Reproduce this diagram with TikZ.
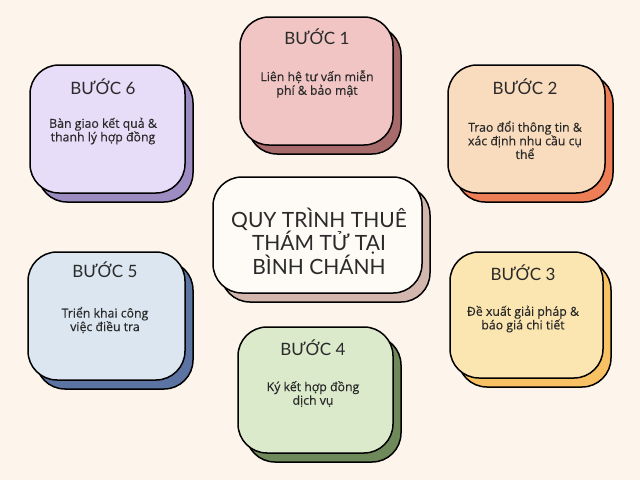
\documentclass[tikz,border=0pt]{standalone}
\usepackage{fontspec}
\setmainfont{Lato}
\newfontfamily\bodyfont[FakeBold=0.4]{Open Sans}
\usetikzlibrary{shadows}
\pgfdeclarelayer{background}
\pgfsetlayers{background,main}
\definecolor{bg}{HTML}{FDF5EC}
\definecolor{txt}{HTML}{2A2A2A}
\definecolor{f1}{HTML}{F1C5C4}\definecolor{s1}{HTML}{A86B6B}
\definecolor{f2}{HTML}{F9DCBE}\definecolor{s2}{HTML}{EE7E55}
\definecolor{f3}{HTML}{FBE5B0}\definecolor{s3}{HTML}{F8C264}
\definecolor{f4}{HTML}{DCEACC}\definecolor{s4}{HTML}{6E8A5A}
\definecolor{f5}{HTML}{DCE6F0}\definecolor{s5}{HTML}{5C74A2}
\definecolor{f6}{HTML}{E8DDF8}\definecolor{s6}{HTML}{9C8CC2}
\definecolor{fc}{HTML}{FEFBF6}\definecolor{sc}{HTML}{D3B7AF}
\tikzset{
  card/.style n args={4}{draw=black, line width=1.5pt, rounded corners=29pt,
    fill=#3, minimum width=#1, minimum height=#2, inner sep=0pt,
    general shadow={fill=#4, draw=black, line width=1.5pt, shadow xshift=8pt, shadow yshift=-9pt}},
  head/.style={font=\fontsize{17}{20}\selectfont, text=txt, inner sep=0pt},
  body/.style={font=\bodyfont\fontsize{12.3}{13.6}\selectfont, text=txt, align=center, inner sep=0pt},
  title/.style={font=\fontsize{21}{23.5}\selectfont, text=txt, align=center, inner sep=0pt},
  conn/.style={draw=black!75, line width=0.8pt}
}
\begin{document}
\begin{tikzpicture}[x=1pt,y=-1pt]
\fill[bg] (0,0) rectangle (640,480);
\useasboundingbox (0,0) rectangle (640,480);
% boxes
\node[card={153pt}{128pt}{f1}{s1}] (k1) at (316.5,81) {};
\node[card={157pt}{128pt}{f2}{s2}] (k2) at (526.5,129) {};
\node[card={153pt}{126pt}{f3}{s3}] (k3) at (526.5,315) {};
\node[card={155pt}{126pt}{f4}{s4}] (k4) at (315.5,390) {};
\node[card={157pt}{128pt}{f5}{s5}] (k5) at (106.5,316) {};
\node[card={155pt}{128pt}{f6}{s6}] (k6) at (107.5,129) {};
\node[card={209pt}{116pt}{fc}{sc}] (c) at (317.5,235) {};
% connectors
\begin{pgfonlayer}{background}
\foreach \k in {k1,k2,k3,k4,k5,k6} \draw[conn] (c.center) -- (\k.center);
\end{pgfonlayer}
% texts
\node[head] (h1) at (317,37) {BƯỚC 1};
\node[body] (b1) at (317,84) {Liên hệ tư vấn miễn\\phí \& bảo mật};
\node[head] (h2) at (525,87) {BƯỚC 2};
\node[body] (b2) at (525,140) {Trao đổi thông tin \&\\xác định nhu cầu cụ\\thể};
\node[head] (h3) at (523,273) {BƯỚC 3};
\node[body] (b3) at (523,319) {Đề xuất giải pháp \&\\báo giá chi tiết};
\node[head] (h4) at (313,348) {BƯỚC 4};
\node[body] (b4) at (313,394) {Ký kết hợp đồng\\dịch vụ};
\node[head] (h5) at (105,270) {BƯỚC 5};
\node[body] (b5) at (105,320) {Triển khai công\\việc điều tra};
\node[head] (h6) at (103,87) {BƯỚC 6};
\node[body] (b6) at (103,131) {Bàn giao kết quả \&\\thanh lý hợp đồng};
\node[title] (t) at (319,241) {QUY TRÌNH THUÊ\\THÁM TỬ TẠI\\BÌNH CHÁNH};
\end{tikzpicture}
\end{document}
